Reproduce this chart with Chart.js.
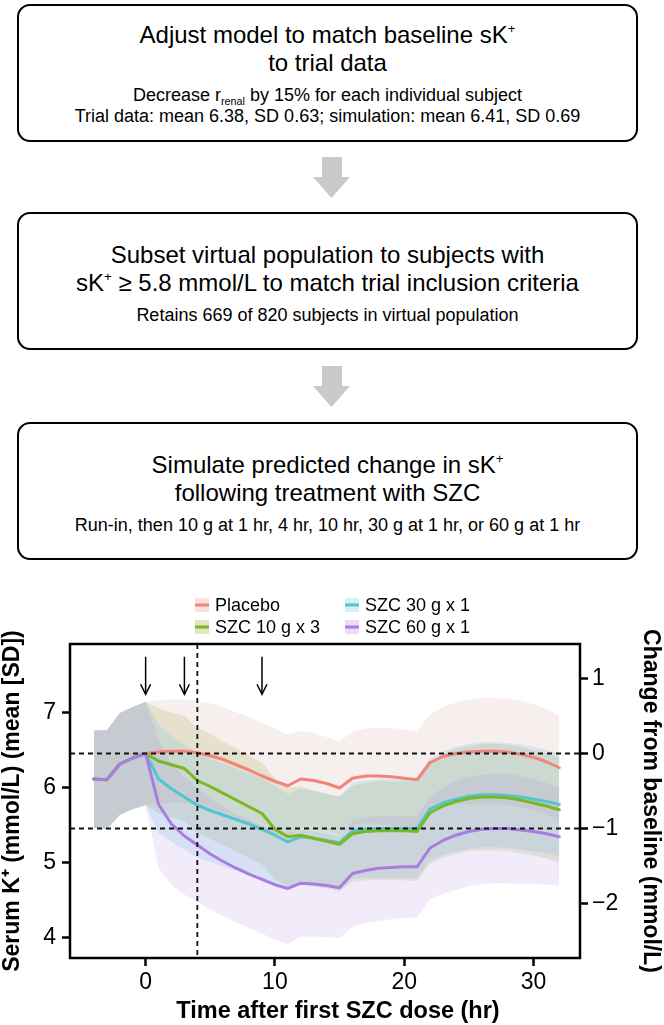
<!DOCTYPE html>
<html><head><meta charset="utf-8">
<script src="https://cdn.jsdelivr.net/npm/chart.js@4.4.1/dist/chart.umd.min.js"></script>
<style>
html,body{margin:0;padding:0;background:#fff;}
body{width:664px;height:1025px;position:relative;overflow:hidden;font-family:'Liberation Sans',Arial,Helvetica,sans-serif;color:#000;}
.box{position:absolute;left:17px;width:621px;height:138px;box-sizing:border-box;border:2.5px solid #000;border-radius:13px;}
.t{position:absolute;left:17px;width:621px;text-align:center;white-space:nowrap;}
.big{font-size:24px;line-height:28px;}
.small{font-size:18px;line-height:20px;}
sup{font-size:0.55em;vertical-align:0.75em;line-height:0;}
sub{font-size:0.6em;vertical-align:-0.4em;line-height:0;}
.arr{position:absolute;left:313px;width:37px;height:41px;}
#chartWrap{position:absolute;left:0;top:575px;width:664px;height:450px;}
</style></head>
<body>
<div class="box" style="top:4px"></div>
<div class="t big" style="top:21px">Adjust model to match baseline sK<sup>+</sup></div>
<div class="t big" style="top:49px">to trial data</div>
<div class="t small" style="top:85px">Decrease r<sub>renal</sub> by 15% for each individual subject</div>
<div class="t small" style="top:106px">Trial data: mean 6.38, SD 0.63; simulation: mean 6.41, SD 0.69</div>

<svg class="arr" style="top:157px" viewBox="0 0 37 41"><polygon points="9,0 29,0 29,20 37,20 18.5,41 0,20 9,20" fill="#c9c9c9"/></svg>

<div class="box" style="top:212px"></div>
<div class="t big" style="top:241px">Subset virtual population to subjects with</div>
<div class="t big" style="top:269px">sK<sup>+</sup> ≥ 5.8 mmol/L to match trial inclusion criteria</div>
<div class="t small" style="top:305px">Retains 669 of 820 subjects in virtual population</div>

<svg class="arr" style="top:366px" viewBox="0 0 37 41"><polygon points="9,0 29,0 29,20 37,20 18.5,41 0,20 9,20" fill="#c9c9c9"/></svg>

<div class="box" style="top:422px"></div>
<div class="t big" style="top:451px">Simulate predicted change in sK<sup>+</sup></div>
<div class="t big" style="top:479px">following treatment with SZC</div>
<div class="t small" style="top:515px">Run-in, then 10 g at 1 hr, 4 hr, 10 hr, 30 g at 1 hr, or 60 g at 1 hr</div>

<div id="chartWrap"><canvas id="c"></canvas></div>

<script>
// ---------------- data ----------------
const hours = [-4,-3,-2,-1,0,1,2,3,4,5,6,7,8,9,10,11,12,13,14,15,16,17,18,19,20,21,22,23,24,25,26,27,28,29,30,31,32];

const seriesLabels = ['Placebo','SZC 10 g x 3','SZC 30 g x 1','SZC 60 g x 1'];

const placeboMean = [6.12,6.11,6.32,6.40,6.46, 6.48,6.49,6.49,6.47,6.43,6.38,6.31,6.24,6.16,6.09,6.03, 6.12,6.10,6.06,6.00, 6.13,6.16,6.16,6.15,6.13,6.11, 6.34,6.42,6.46,6.48,6.49,6.49,6.48,6.45,6.41,6.35,6.27];
const placeboSD   = [0.65,0.66,0.68,0.68,0.69, 0.69,0.69,0.69,0.69,0.70,0.70,0.70,0.71,0.71,0.70,0.68, 0.64,0.63,0.62,0.62, 0.62,0.63,0.64,0.65,0.65,0.64, 0.64,0.66,0.68,0.70,0.71,0.71,0.71,0.71,0.71,0.70,0.70];

const szc10Mean = [6.12,6.11,6.32,6.40,6.46, 6.36,6.31,6.26,6.10,6.02,5.93,5.84,5.75,5.66,5.45,5.35, 5.37,5.33,5.29,5.25, 5.39,5.42,5.43,5.43,5.43,5.42, 5.67,5.76,5.82,5.86,5.88,5.88,5.87,5.84,5.80,5.76,5.71];
const szc10SD   = [0.65,0.66,0.68,0.68,0.69, 0.70,0.70,0.70,0.70,0.70,0.69,0.69,0.68,0.68,0.67,0.66, 0.65,0.64,0.63,0.63, 0.64,0.65,0.66,0.66,0.66,0.66, 0.68,0.69,0.70,0.70,0.71,0.71,0.71,0.71,0.70,0.70,0.70];

const szc30Mean = [6.12,6.11,6.32,6.40,6.46, 6.12,5.99,5.88,5.77,5.70,5.64,5.58,5.52,5.45,5.37,5.28, 5.35,5.33,5.30,5.27, 5.43,5.45,5.46,5.46,5.46,5.46, 5.72,5.80,5.85,5.89,5.91,5.91,5.90,5.88,5.85,5.82,5.78];
const szc30SD   = [0.65,0.66,0.68,0.68,0.69, 0.72,0.71,0.70,0.70,0.69,0.69,0.68,0.68,0.67,0.66,0.64, 0.64,0.63,0.62,0.62, 0.64,0.65,0.66,0.66,0.66,0.66, 0.68,0.69,0.70,0.70,0.70,0.70,0.70,0.70,0.70,0.69,0.69];

const szc60Mean = [6.12,6.11,6.32,6.40,6.46, 5.78,5.52,5.36,5.24,5.12,5.02,4.93,4.85,4.78,4.71,4.66, 4.73,4.72,4.70,4.67, 4.86,4.90,4.93,4.94,4.95,4.95, 5.20,5.30,5.37,5.42,5.45,5.46,5.46,5.44,5.42,5.39,5.35];
const szc60SD   = [0.65,0.66,0.68,0.68,0.69, 0.85,0.81,0.78,0.76,0.74,0.73,0.72,0.72,0.72,0.73,0.74, 0.71,0.70,0.69,0.67, 0.71,0.70,0.70,0.69,0.68,0.68, 0.68,0.71,0.73,0.73,0.73,0.73,0.73,0.72,0.70,0.68,0.65];

const doseTimes = [0, 3, 9];      // arrows
const refTimes = [4];             // vertical dashed line
const refChanges = [0, -1];       // horizontal dashed lines (change from baseline)
const baselineK = 6.46;           // right axis zero
const xTickValues = [0, 10, 20, 30];
const yTickValues = [4, 5, 6, 7];
const y2TickValues = [-2, -1, 0, 1];
const xTitle = 'Time after first SZC dose (hr)';

// ---------------- styles ----------------
const FONT = "'Liberation Sans', Arial, Helvetica, sans-serif";
Chart.defaults.font.family = FONT;
Chart.defaults.color = '#000';

const lineColors = ['#f2847c', '#7ab822', '#52c6cf', '#a87ddf'];
const fillColors = ['rgba(200,140,140,0.15)', 'rgba(150,165,50,0.18)', 'rgba(60,170,230,0.15)', 'rgba(160,120,220,0.15)'];
const swatchColors = ['rgba(242,132,124,0.25)', 'rgba(150,165,50,0.28)', 'rgba(82,198,207,0.25)', 'rgba(168,125,223,0.25)'];

const means = [placeboMean, szc10Mean, szc30Mean, szc60Mean];
const sds = [placeboSD, szc10SD, szc30SD, szc60SD];

const datasets = [];
means.forEach((m, i) => {
  datasets.push({label: '_lo' + i, data: hours.map((h, j) => ({x: h, y: m[j] - sds[i][j]})),
    borderWidth: 0, pointRadius: 0, fill: false, order: 40 - 10 * i});
  datasets.push({label: '_hi' + i, data: hours.map((h, j) => ({x: h, y: m[j] + sds[i][j]})),
    borderWidth: 0, pointRadius: 0, fill: '-1', backgroundColor: fillColors[i], order: 40 - 10 * i});
});
[0, 2, 1, 3].forEach((i, k) => {
  datasets.push({label: seriesLabels[i], data: hours.map((h, j) => ({x: h, y: means[i][j]})),
    borderColor: lineColors[i], borderWidth: 3, pointRadius: 0, fill: false,
    borderJoinStyle: 'round', borderCapStyle: 'round', order: 4 - k});
});

const yMin = 3.733, yMax = 7.92;

const decor = {
  id: 'decor',
  afterDatasetsDraw(chart) {
    const {ctx, chartArea: a, scales} = chart;
    const x = scales.x, y = scales.y, y2 = scales.y2;
    ctx.save();
    ctx.setLineDash([5, 4]);
    ctx.lineWidth = 1.8;
    ctx.strokeStyle = '#111';
    refChanges.forEach(v => {
      const py = y2.getPixelForValue(v);
      ctx.beginPath(); ctx.moveTo(a.left, py); ctx.lineTo(a.right, py); ctx.stroke();
    });
    refTimes.forEach(t => {
      const px = x.getPixelForValue(t);
      ctx.beginPath(); ctx.moveTo(px, a.top); ctx.lineTo(px, a.bottom); ctx.stroke();
    });
    ctx.setLineDash([]);
    ctx.lineWidth = 1.5;
    ctx.strokeStyle = '#000';
    doseTimes.forEach(t => {
      const px = x.getPixelForValue(t);
      const y0 = y.getPixelForValue(7.75), y1 = y.getPixelForValue(7.25);
      ctx.beginPath(); ctx.moveTo(px, y0); ctx.lineTo(px, y1); ctx.stroke();
      ctx.beginPath(); ctx.moveTo(px - 5, y1 - 10); ctx.lineTo(px, y1); ctx.lineTo(px + 5, y1 - 10); ctx.stroke();
    });
    ctx.lineWidth = 2.5;
    ctx.strokeRect(a.left, a.top, a.right - a.left, a.bottom - a.top);
    ctx.restore();
  },
  afterDraw(chart) {
    const ctx = chart.ctx;
    const a = chart.chartArea;
    const colX = [195, 345], rowY = [30, 52];
    const layout = [[0, 0, 0], [2, 1, 0], [1, 0, 1], [3, 1, 1]];
    ctx.save();
    ctx.font = '18px ' + FONT;
    ctx.textBaseline = 'middle';
    ctx.textAlign = 'left';
    layout.forEach(([i, c, r]) => {
      const sx = colX[c], cy = rowY[r];
      ctx.fillStyle = swatchColors[i];
      ctx.fillRect(sx, cy - 7, 14, 14);
      ctx.fillStyle = lineColors[i];
      ctx.fillRect(sx, cy - 1.5, 14, 3);
      ctx.fillStyle = '#000';
      ctx.fillText(seriesLabels[i], sx + 20, cy + 1);
    });
    // x-axis title (slightly right of plot centre, as in the original)
    ctx.font = 'bold 23.5px ' + FONT;
    ctx.textAlign = 'center';
    ctx.fillText(xTitle, (a.left + a.right) / 2 + 13, chart.height - 13);
    ctx.restore();
  }
};

const gridOpts = {display: true, drawOnChartArea: false, drawTicks: true, tickLength: 8, tickWidth: 2.5, tickColor: '#000'};
const minus = v => (v < 0 ? '\u2212' + Math.abs(v) : String(v));

new Chart(document.getElementById('c'), {
  type: 'line',
  data: {datasets},
  options: {
    responsive: true,
    maintainAspectRatio: false,
    animation: false,
    events: [],
    layout: {padding: {top: 69, left: 0, right: 0, bottom: 0}},
    plugins: {legend: {display: false}, tooltip: {enabled: false}, title: {display: false}},
    scales: {
      x: {
        type: 'linear', position: 'bottom', min: -5.85, max: 33.6,
        afterBuildTicks: s => { s.ticks = xTickValues.map(v => ({value: v})); },
        afterFit: s => { s.height = 67; },
        ticks: {font: {size: 23}, color: '#000', padding: 3, maxRotation: 0},
        grid: gridOpts, border: {display: false},
        title: {display: false}
      },
      y: {
        type: 'linear', position: 'left', min: yMin, max: yMax,
        afterBuildTicks: s => { s.ticks = yTickValues.map(v => ({value: v})); },
        afterFit: s => { s.width = 70; },
        ticks: {font: {size: 23}, color: '#000', padding: 6},
        grid: gridOpts, border: {display: false},
        title: {display: true, text: 'Serum K\u207A (mmol/L) (mean [SD])', font: {size: 23, weight: 'bold', lineHeight: 1.1}, color: '#000', padding: {top: 0, bottom: 0}}
      },
      y2: {
        type: 'linear', position: 'right', min: yMin - baselineK, max: yMax - baselineK,
        afterBuildTicks: s => { s.ticks = y2TickValues.map(v => ({value: v})); },
        afterFit: s => { s.width = 84; },
        ticks: {font: {size: 23}, color: '#000', padding: 4, callback: minus},
        grid: gridOpts, border: {display: false},
        title: {display: true, text: 'Change from baseline (mmol/L)', font: {size: 23, weight: 'bold', lineHeight: 1.1}, color: '#000', padding: {top: 1, bottom: 0}}
      }
    }
  },
  plugins: [decor]
});
</script>
</body></html>
